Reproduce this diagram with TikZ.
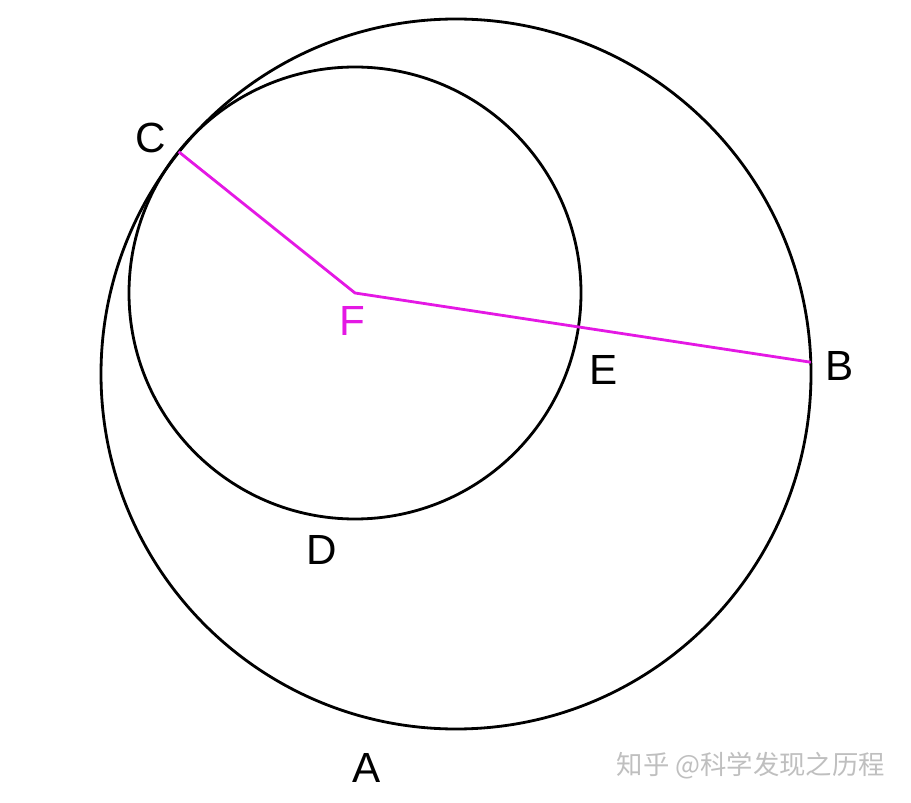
\documentclass[tikz,border=0pt]{standalone}
\usepackage{fontspec}
\setmainfont{Liberation Sans}
\newfontfamily\cjk{Noto Sans CJK SC}
\usepackage{xcolor}
\usetikzlibrary{calc}
\definecolor{radcol}{RGB}{228,24,228}
\tikzset{
	circ/.style={line width=1.6pt,black},
	rad/.style={line width=1.6pt,radcol},
	lab/.style={inner sep=0pt,font=\fontsize{24}{28}\selectfont}
}
\begin{document}
\begin{tikzpicture}[transform shape,scale=1]
	\useasboundingbox (0,0) rectangle (18.22,-16.06);
	\coordinate (O) at (9.12,-7.48);
	\coordinate (F) at (7.10,-5.86);
	\draw[circ] (O) circle (7.1);
	\draw[circ] (F) circle (4.52);
	\coordinate (C) at ($(F)+(141.3:4.52)$);
	\coordinate (B) at ($(O)+(1.9:7.1)$);
	\coordinate (E) at ($(F)!4.52cm!(B)$);
	\draw[rad] (C)--(F)--(B);
	\node[lab] (labC) at (3.02,-2.76) {C};
	\node[lab,text=radcol] (labF) at (7.04,-6.42) {F};
	\node[lab] (labE) at (12.08,-7.40) {E};
	\node[lab] (labB) at (16.80,-7.32) {B};
	\node[lab] (labD) at (6.44,-11.00) {D};
	\node[lab] (labA) at (7.34,-15.36) {A};
	\node[inner sep=0pt,text=black!25,font=\cjk\fontsize{15}{18}\selectfont] (mark) at (15.02,-15.32) {知乎 @科学发现之历程};
\end{tikzpicture}
\end{document}
